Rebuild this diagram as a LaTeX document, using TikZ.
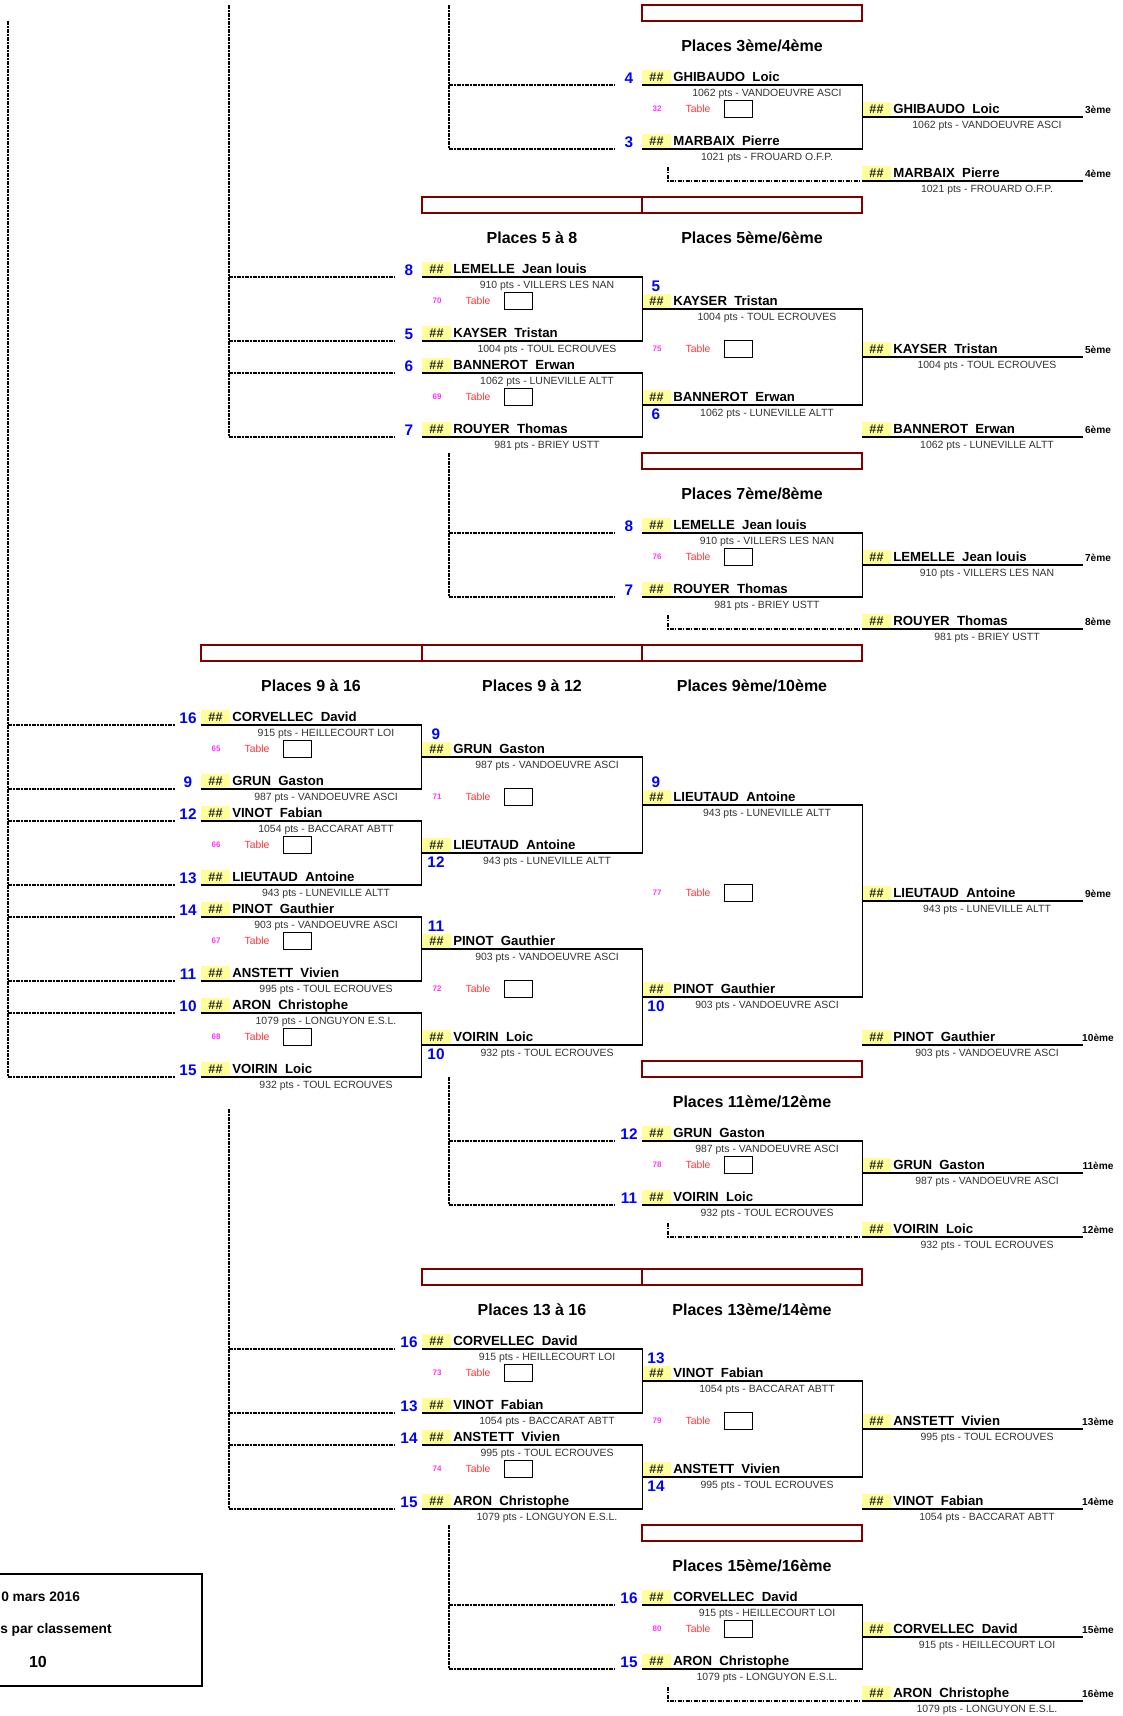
\documentclass[tikz,border=0pt]{standalone}
\usepackage{fontspec}
\setmainfont{Liberation Sans}
\usetikzlibrary{calc}
\definecolor{maroonc}{HTML}{800000}
\definecolor{hashy}{HTML}{FFFF99}
\definecolor{seedblue}{HTML}{0000FF}
\definecolor{tred}{HTML}{FF3333}
\definecolor{tmag}{HTML}{FF33FF}
\definecolor{ptsgray}{HTML}{333333}
\newcommand\fsz[1]{\fontsize{#1}{#1}\selectfont}
\def\XA{201}\def\XB{422}\def\XC{642}\def\XD{862}\def\XE{1083}
\tikzset{
  brk/.style={line width=1.35pt},
  feed/.style={line width=1.25pt, dash pattern=on 3pt off 0.9pt on 1.2pt off 0.9pt},
  mrect/.style={draw=maroonc, line width=1.5pt},
  hashlbl/.style={inner sep=0pt, font=\bfseries\fsz{9.5pt}, text=black!85},
  namelbl/.style={inner sep=0pt, font=\bfseries\fsz{9.9pt}},
  ptslbl/.style={inner sep=0pt, font=\fsz{7.85pt}, text=ptsgray},
  seedlbl/.style={inner sep=0pt, font=\bfseries\fsz{11.5pt}, text=seedblue},
  tnum/.style={inner sep=0pt, font=\bfseries\fsz{6pt}, text=tmag},
  tlbl/.style={inner sep=0pt, font=\fsz{7.8pt}, text=tred},
  tbox/.style={draw, line width=1.1pt, minimum width=21pt, minimum height=12.5pt, inner sep=0pt},
  ranklbl/.style={inner sep=0pt, font=\bfseries\fsz{7.6pt}},
  titlelbl/.style={inner sep=0pt, font=\bfseries\fsz{12pt}},
  infolbl/.style={inner sep=0pt, font=\bfseries\fsz{10.3pt}},
  infobig/.style={inner sep=0pt, font=\bfseries\fsz{12pt}},
  infobox/.style={line width=2pt}
}
% id, column x, row, surname, first name, points
\newcommand\pslot[6]{%
  \coordinate (#1L) at (#2,#3);
  \coordinate (#1R) at (#2+220.5,#3);
  \fill[hashy] (#2,#3-0.09) rectangle (#2+29,#3-0.94);
  \node[hashlbl] (#1H) at (#2+14.5,#3-0.5) {\#\#};
  \node[namelbl,anchor=base west] (#1N) at (#2+31,#3-0.2) {#4~~#5};
  \node[ptslbl] (#1P) at (#2+125,#3+0.55) {#6};
}
% id, x, row, text
\newcommand\pseed[4]{\node[seedlbl] (#1) at (#2,#3) {#4};}
% id, column x, row, number
\newcommand\ptable{}
\renewcommand\ptable[4]{%
  \node[tnum] (#1n) at (#2+15,#3) {#4};
  \node[tlbl] (#1t) at (#2+56,#3) {Table};
  \node[tbox] (#1b) at (#2+96.5,#3) {};
}
% id, row, text
\newcommand\prank[3]{\node[ranklbl] (#1) at (1098,#2-0.45) {#3};}
\begin{document}
\begin{tikzpicture}[x=0.75pt,y=-12pt]
\useasboundingbox (0,-0.3125) rectangle (1123,106.9375);

%================ Places 3/4 =================
\draw[mrect] (\XC,0) rectangle (\XD,1);
\node[titlelbl] (t34) at (752,2.55) {Places 3ème/4ème};
\pslot{a1}{\XC}{5}{GHIBAUDO}{Loic}{1062 pts - VANDOEUVRE ASCI}
\pslot{a2}{\XC}{9}{MARBAIX}{Pierre}{1021 pts - FROUARD O.F.P.}
\pseed{a1s}{\XC-13}{5-0.42}{4}
\pseed{a2s}{\XC-13}{9-0.42}{3}
\ptable{ta}{\XC}{6.5}{32}
\pslot{a3}{\XD}{7}{GHIBAUDO}{Loic}{1062 pts - VANDOEUVRE ASCI}
\pslot{a4}{\XD}{11}{MARBAIX}{Pierre}{1021 pts - FROUARD O.F.P.}
\prank{a3k}{7}{3ème}
\prank{a4k}{11}{4ème}
\draw[brk] (a1L) -- (a1R) -- (a2R) -- (a2L);
\draw[brk] (a3L) -- (a3R);
\draw[brk] (a4L) -- (a4R);
\coordinate (fa) at (449,0);
\draw[feed] (fa) -- (fa |- a2L);
\foreach \p in {a1L,a2L} \draw[feed] (fa |- \p) -- ([shift={(-27,0)}]\p);
\coordinate (la) at (668,11-0.9);
\draw[feed] (la) |- (a4L);

%================ Places 5 a 8 =================
\draw[mrect] (\XB,12) rectangle (\XC,13);
\draw[mrect] (\XC,12) rectangle (\XD,13);
\node[titlelbl] (t58) at (532,14.55) {Places 5 à 8};
\node[titlelbl] (t56) at (752,14.55) {Places 5ème/6ème};
\pslot{b1}{\XB}{17}{LEMELLE}{Jean louis}{910 pts - VILLERS LES NAN}
\pslot{b2}{\XB}{21}{KAYSER}{Tristan}{1004 pts - TOUL ECROUVES}
\pslot{b3}{\XB}{23}{BANNEROT}{Erwan}{1062 pts - LUNEVILLE ALTT}
\pslot{b4}{\XB}{27}{ROUYER}{Thomas}{981 pts - BRIEY USTT}
\pseed{b1s}{\XB-13}{17-0.42}{8}
\pseed{b2s}{\XB-13}{21-0.42}{5}
\pseed{b3s}{\XB-13}{23-0.42}{6}
\pseed{b4s}{\XB-13}{27-0.42}{7}
\ptable{tb1}{\XB}{18.5}{70}
\ptable{tb2}{\XB}{24.5}{69}
\pslot{b5}{\XC}{19}{KAYSER}{Tristan}{1004 pts - TOUL ECROUVES}
\pslot{b6}{\XC}{25}{BANNEROT}{Erwan}{1062 pts - LUNEVILLE ALTT}
\pseed{b5s}{\XC+14}{19-1.45}{5}
\pseed{b6s}{\XC+14}{25+0.55}{6}
\ptable{tb3}{\XC}{21.5}{75}
\pslot{b7}{\XD}{22}{KAYSER}{Tristan}{1004 pts - TOUL ECROUVES}
\pslot{b8}{\XD}{27}{BANNEROT}{Erwan}{1062 pts - LUNEVILLE ALTT}
\prank{b7k}{22}{5ème}
\prank{b8k}{27}{6ème}
\draw[brk] (b1L) -- (b1R) -- (b2R) -- (b2L);
\draw[brk] (b3L) -- (b3R) -- (b4R) -- (b4L);
\draw[brk] (b5L) -- (b5R) -- (b6R) -- (b6L);
\draw[brk] (b7L) -- (b7R);
\draw[brk] (b8L) -- (b8R);
\coordinate (fb) at (229,0);
\draw[feed] (fb) -- (fb |- b4L);
\foreach \p in {b1L,b2L,b3L,b4L} \draw[feed] (fb |- \p) -- ([shift={(-27,0)}]\p);

%================ Places 7/8 =================
\draw[mrect] (\XC,28) rectangle (\XD,29);
\node[titlelbl] (t78) at (752,30.55) {Places 7ème/8ème};
\pslot{c1}{\XC}{33}{LEMELLE}{Jean louis}{910 pts - VILLERS LES NAN}
\pslot{c2}{\XC}{37}{ROUYER}{Thomas}{981 pts - BRIEY USTT}
\pseed{c1s}{\XC-13}{33-0.42}{8}
\pseed{c2s}{\XC-13}{37-0.42}{7}
\ptable{tc}{\XC}{34.5}{76}
\pslot{c3}{\XD}{35}{LEMELLE}{Jean louis}{910 pts - VILLERS LES NAN}
\pslot{c4}{\XD}{39}{ROUYER}{Thomas}{981 pts - BRIEY USTT}
\prank{c3k}{35}{7ème}
\prank{c4k}{39}{8ème}
\draw[brk] (c1L) -- (c1R) -- (c2R) -- (c2L);
\draw[brk] (c3L) -- (c3R);
\draw[brk] (c4L) -- (c4R);
\coordinate (fc) at (449,28);
\draw[feed] (fc) -- (fc |- c2L);
\foreach \p in {c1L,c2L} \draw[feed] (fc |- \p) -- ([shift={(-27,0)}]\p);
\coordinate (lc) at (668,39-0.9);
\draw[feed] (lc) |- (c4L);

%================ Places 9 a 16 =================
\draw[mrect] (\XA,40) rectangle (\XB,41);
\draw[mrect] (\XB,40) rectangle (\XC,41);
\draw[mrect] (\XC,40) rectangle (\XD,41);
\node[titlelbl] (t916) at (311,42.55) {Places 9 à 16};
\node[titlelbl] (t912) at (532,42.55) {Places 9 à 12};
\node[titlelbl] (t910) at (752,42.55) {Places 9ème/10ème};
\pslot{d1}{\XA}{45}{CORVELLEC}{David}{915 pts - HEILLECOURT LOI}
\pslot{d2}{\XA}{49}{GRUN}{Gaston}{987 pts - VANDOEUVRE ASCI}
\pslot{d3}{\XA}{51}{VINOT}{Fabian}{1054 pts - BACCARAT ABTT}
\pslot{d4}{\XA}{55}{LIEUTAUD}{Antoine}{943 pts - LUNEVILLE ALTT}
\pslot{d5}{\XA}{57}{PINOT}{Gauthier}{903 pts - VANDOEUVRE ASCI}
\pslot{d6}{\XA}{61}{ANSTETT}{Vivien}{995 pts - TOUL ECROUVES}
\pslot{d7}{\XA}{63}{ARON}{Christophe}{1079 pts - LONGUYON E.S.L.}
\pslot{d8}{\XA}{67}{VOIRIN}{Loic}{932 pts - TOUL ECROUVES}
\pseed{d1s}{\XA-13}{45-0.42}{16}
\pseed{d2s}{\XA-13}{49-0.42}{9}
\pseed{d3s}{\XA-13}{51-0.42}{12}
\pseed{d4s}{\XA-13}{55-0.42}{13}
\pseed{d5s}{\XA-13}{57-0.42}{14}
\pseed{d6s}{\XA-13}{61-0.42}{11}
\pseed{d7s}{\XA-13}{63-0.42}{10}
\pseed{d8s}{\XA-13}{67-0.42}{15}
\ptable{td1}{\XA}{46.5}{65}
\ptable{td2}{\XA}{52.5}{66}
\ptable{td3}{\XA}{58.5}{67}
\ptable{td4}{\XA}{64.5}{68}
\pslot{d9}{\XB}{47}{GRUN}{Gaston}{987 pts - VANDOEUVRE ASCI}
\pslot{d10}{\XB}{53}{LIEUTAUD}{Antoine}{943 pts - LUNEVILLE ALTT}
\pslot{d11}{\XB}{59}{PINOT}{Gauthier}{903 pts - VANDOEUVRE ASCI}
\pslot{d12}{\XB}{65}{VOIRIN}{Loic}{932 pts - TOUL ECROUVES}
\pseed{d9s}{\XB+14}{47-1.45}{9}
\pseed{d10s}{\XB+14}{53+0.55}{12}
\pseed{d11s}{\XB+14}{59-1.45}{11}
\pseed{d12s}{\XB+14}{65+0.55}{10}
\ptable{td5}{\XB}{49.5}{71}
\ptable{td6}{\XB}{61.5}{72}
\pslot{d13}{\XC}{50}{LIEUTAUD}{Antoine}{943 pts - LUNEVILLE ALTT}
\pslot{d14}{\XC}{62}{PINOT}{Gauthier}{903 pts - VANDOEUVRE ASCI}
\pseed{d13s}{\XC+14}{50-1.45}{9}
\pseed{d14s}{\XC+14}{62+0.55}{10}
\ptable{td7}{\XC}{55.5}{77}
\pslot{d15}{\XD}{56}{LIEUTAUD}{Antoine}{943 pts - LUNEVILLE ALTT}
\pslot{d16}{\XD}{65}{PINOT}{Gauthier}{903 pts - VANDOEUVRE ASCI}
\prank{d15k}{56}{9ème}
\prank{d16k}{65}{10ème}
\draw[brk] (d1L) -- (d1R) -- (d2R) -- (d2L);
\draw[brk] (d3L) -- (d3R) -- (d4R) -- (d4L);
\draw[brk] (d5L) -- (d5R) -- (d6R) -- (d6L);
\draw[brk] (d7L) -- (d7R) -- (d8R) -- (d8L);
\draw[brk] (d9L) -- (d9R) -- (d10R) -- (d10L);
\draw[brk] (d11L) -- (d11R) -- (d12R) -- (d12L);
\draw[brk] (d13L) -- (d13R) -- (d14R) -- (d14L);
\draw[brk] (d15L) -- (d15R);
\draw[brk] (d16L) -- (d16R);
\coordinate (fd) at (8,1);
\draw[feed] (fd) -- (fd |- d8L);
\foreach \p in {d1L,d2L,d3L,d4L,d5L,d6L,d7L,d8L} \draw[feed] (fd |- \p) -- ([shift={(-26,0)}]\p);

%================ Places 11/12 =================
\draw[mrect] (\XC,66) rectangle (\XD,67);
\node[titlelbl] (t1112) at (752,68.55) {Places 11ème/12ème};
\pslot{e1}{\XC}{71}{GRUN}{Gaston}{987 pts - VANDOEUVRE ASCI}
\pslot{e2}{\XC}{75}{VOIRIN}{Loic}{932 pts - TOUL ECROUVES}
\pseed{e1s}{\XC-13}{71-0.42}{12}
\pseed{e2s}{\XC-13}{75-0.42}{11}
\ptable{te}{\XC}{72.5}{78}
\pslot{e3}{\XD}{73}{GRUN}{Gaston}{987 pts - VANDOEUVRE ASCI}
\pslot{e4}{\XD}{77}{VOIRIN}{Loic}{932 pts - TOUL ECROUVES}
\prank{e3k}{73}{11ème}
\prank{e4k}{77}{12ème}
\draw[brk] (e1L) -- (e1R) -- (e2R) -- (e2L);
\draw[brk] (e3L) -- (e3R);
\draw[brk] (e4L) -- (e4R);
\coordinate (fe) at (449,67);
\draw[feed] (fe) -- (fe |- e2L);
\foreach \p in {e1L,e2L} \draw[feed] (fe |- \p) -- ([shift={(-27,0)}]\p);
\coordinate (le) at (668,77-0.9);
\draw[feed] (le) |- (e4L);

%================ Places 13 a 16 =================
\draw[mrect] (\XB,79) rectangle (\XC,80);
\draw[mrect] (\XC,79) rectangle (\XD,80);
\node[titlelbl] (t1316) at (532,81.55) {Places 13 à 16};
\node[titlelbl] (t1314) at (752,81.55) {Places 13ème/14ème};
\pslot{f1}{\XB}{84}{CORVELLEC}{David}{915 pts - HEILLECOURT LOI}
\pslot{f2}{\XB}{88}{VINOT}{Fabian}{1054 pts - BACCARAT ABTT}
\pslot{f3}{\XB}{90}{ANSTETT}{Vivien}{995 pts - TOUL ECROUVES}
\pslot{f4}{\XB}{94}{ARON}{Christophe}{1079 pts - LONGUYON E.S.L.}
\pseed{f1s}{\XB-13}{84-0.42}{16}
\pseed{f2s}{\XB-13}{88-0.42}{13}
\pseed{f3s}{\XB-13}{90-0.42}{14}
\pseed{f4s}{\XB-13}{94-0.42}{15}
\ptable{tf1}{\XB}{85.5}{73}
\ptable{tf2}{\XB}{91.5}{74}
\pslot{f5}{\XC}{86}{VINOT}{Fabian}{1054 pts - BACCARAT ABTT}
\pslot{f6}{\XC}{92}{ANSTETT}{Vivien}{995 pts - TOUL ECROUVES}
\pseed{f5s}{\XC+14}{86-1.45}{13}
\pseed{f6s}{\XC+14}{92+0.55}{14}
\ptable{tf3}{\XC}{88.5}{79}
\pslot{f7}{\XD}{89}{ANSTETT}{Vivien}{995 pts - TOUL ECROUVES}
\pslot{f8}{\XD}{94}{VINOT}{Fabian}{1054 pts - BACCARAT ABTT}
\prank{f7k}{89}{13ème}
\prank{f8k}{94}{14ème}
\draw[brk] (f1L) -- (f1R) -- (f2R) -- (f2L);
\draw[brk] (f3L) -- (f3R) -- (f4R) -- (f4L);
\draw[brk] (f5L) -- (f5R) -- (f6R) -- (f6L);
\draw[brk] (f7L) -- (f7R);
\draw[brk] (f8L) -- (f8R);
\coordinate (ff) at (229,69);
\draw[feed] (ff) -- (ff |- f4L);
\foreach \p in {f1L,f2L,f3L,f4L} \draw[feed] (ff |- \p) -- ([shift={(-27,0)}]\p);

%================ Places 15/16 =================
\draw[mrect] (\XC,95) rectangle (\XD,96);
\node[titlelbl] (t1516) at (752,97.55) {Places 15ème/16ème};
\pslot{g1}{\XC}{100}{CORVELLEC}{David}{915 pts - HEILLECOURT LOI}
\pslot{g2}{\XC}{104}{ARON}{Christophe}{1079 pts - LONGUYON E.S.L.}
\pseed{g1s}{\XC-13}{100-0.42}{16}
\pseed{g2s}{\XC-13}{104-0.42}{15}
\ptable{tg}{\XC}{101.5}{80}
\pslot{g3}{\XD}{102}{CORVELLEC}{David}{915 pts - HEILLECOURT LOI}
\pslot{g4}{\XD}{106}{ARON}{Christophe}{1079 pts - LONGUYON E.S.L.}
\prank{g3k}{102}{15ème}
\prank{g4k}{106}{16ème}
\draw[brk] (g1L) -- (g1R) -- (g2R) -- (g2L);
\draw[brk] (g3L) -- (g3R);
\draw[brk] (g4L) -- (g4R);
\coordinate (fg) at (449,95);
\draw[feed] (fg) -- (fg |- g2L);
\foreach \p in {g1L,g2L} \draw[feed] (fg |- \p) -- ([shift={(-27,0)}]\p);
\coordinate (lg) at (668,106-0.9);
\draw[feed] (lg) |- (g4L);

%================ info box =================
\draw[infobox] (0,98.06) -- (202,98.06) -- (202,105.06) -- (0,105.06);
\node[infolbl,anchor=west] (i1) at (1,99.5) {0 mars 2016};
\node[infolbl,anchor=west] (i2) at (0,101.56) {s par classement};
\node[infobig] (i3) at (38,103.56) {10};
\end{tikzpicture}
\end{document}
